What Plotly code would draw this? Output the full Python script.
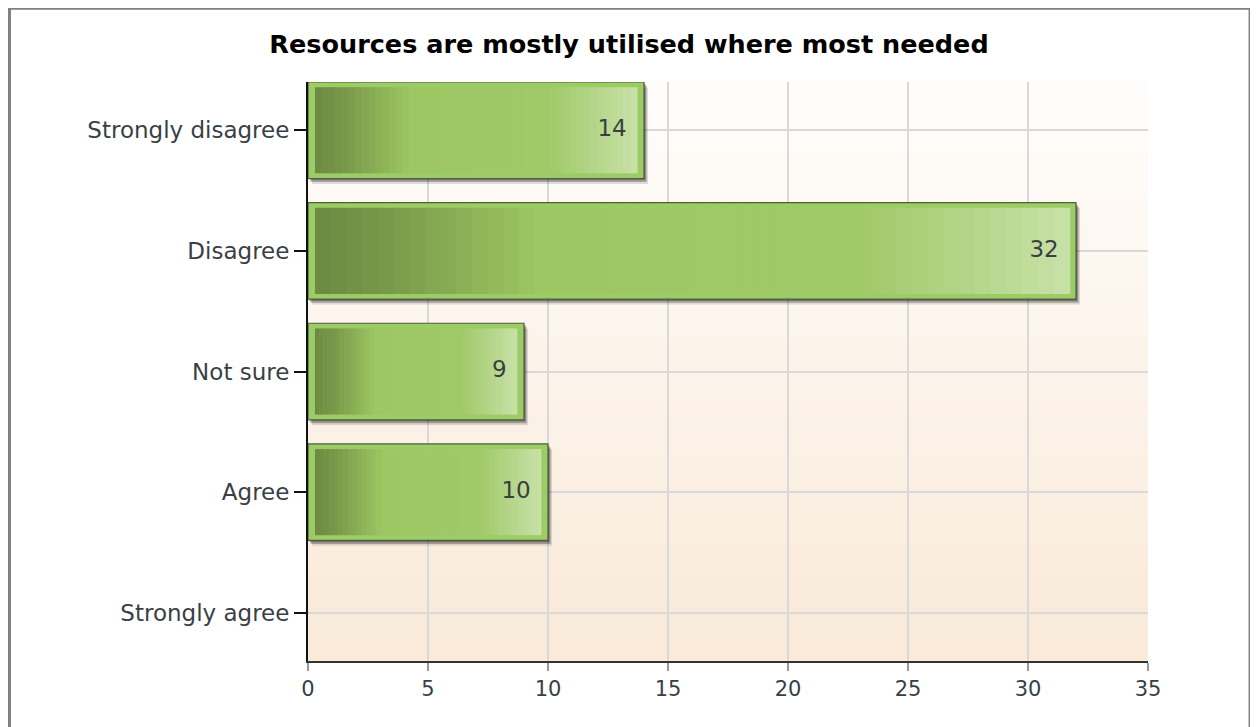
import plotly.graph_objects as go

# Daten
categories = ["Strongly disagree", "Disagree", "Not sure", "Agree", "Strongly agree"]
counts = [14, 32, 9, 10, 0]
x_ticks = [0, 5, 10, 15, 20, 25, 30, 35]

FONT = "DejaVu Sans"
N_SEG = 48
INSET_X = 0.29      # Innenabstand des Verlaufs (Achseneinheiten)
INNER_W = 0.714     # Hoehe des Verlaufs (Kategorie-Einheiten)

# Seite hat 8px Rand im Browser -> Figur etwas kleiner
W, H = 1250, 719


def lerp(c1, c2, t):
    return tuple(c1[k] + (c2[k] - c1[k]) * t for k in range(3))


# Farbverlauf der Balken (links dunkel -> mitte gruen -> rechts hell)
stops = [
    (0.00, (108, 137, 66)),
    (0.10, (122, 154, 74)),
    (0.30, (157, 199, 99)),
    (0.72, (160, 201, 104)),
    (1.00, (199, 225, 167)),
]


def grad_color(t):
    for (t0, c0), (t1, c1) in zip(stops[:-1], stops[1:]):
        if t <= t1:
            c = lerp(c0, c1, (t - t0) / (t1 - t0))
            return "rgb(%d,%d,%d)" % tuple(round(v) for v in c)
    return "rgb(%d,%d,%d)" % stops[-1][1]


# Nullwerte nicht zeichnen
bar_vals = [c if c > 0 else None for c in counts]

fig = go.Figure()

# Schatten
for dx, dy, alpha in [(0.17, 0.045, 0.12), (0.11, 0.03, 0.25), (0.06, 0.015, 0.3)]:
    fig.add_trace(go.Bar(
        y=categories, x=bar_vals, base=dx,
        orientation="h", width=0.8, offset=-0.4 + dy,
        marker=dict(color=f"rgba(0,0,0,{alpha})", line=dict(width=0)),
        hoverinfo="skip", showlegend=False,
    ))

# Aeusserer Balken mit Rahmen
fig.add_trace(go.Bar(
    y=categories, x=bar_vals, orientation="h", width=0.8,
    marker=dict(color="#9ccc65", line=dict(color="#4e5d3a", width=1.2)),
    hoverinfo="skip", showlegend=False,
))

# Verlauf innen aus Segmenten
inner_len = [max(c - 2 * INSET_X, 0) for c in counts]
for i in range(N_SEG):
    t = (i + 0.5) / N_SEG
    fig.add_trace(go.Bar(
        y=categories,
        x=[L / N_SEG * 1.08 if L > 0 else None for L in inner_len],
        base=[INSET_X + L * i / N_SEG for L in inner_len],
        orientation="h", width=INNER_W,
        marker=dict(color=grad_color(t), line=dict(width=0)),
        hoverinfo="skip", showlegend=False,
    ))

# Werte-Beschriftung
lab_cat = [c for c, v in zip(categories, counts) if v > 0]
lab_val = [v for v in counts if v > 0]
fig.add_trace(go.Scatter(
    y=lab_cat, x=[v - 0.72 for v in lab_val], mode="text",
    text=[str(v) for v in lab_val], textposition="middle left",
    textfont=dict(family=FONT, size=23, color="#3a3f3f"),
    hoverinfo="skip", showlegend=False,
))

# Hintergrundverlauf im Plotbereich
shapes = []
n_bg = 40
top_c, bot_c = (255, 253, 251), (249, 234, 217)
for i in range(n_bg):
    c = lerp(top_c, bot_c, i / (n_bg - 1))
    shapes.append(dict(
        type="rect", xref="x domain", yref="y domain",
        x0=0, x1=1, y0=1 - (i + 1) / n_bg, y1=1 - i / n_bg + 0.002,
        fillcolor="rgb(%d,%d,%d)" % tuple(round(v) for v in c),
        line=dict(width=0), layer="below",
    ))

# Rahmen um die Grafik
shapes.append(dict(
    type="rect", xref="paper", yref="paper",
    x0=-0.3554, x1=1.1215, y0=-0.2, y1=1.1275,
    line=dict(color="#808080", width=3), fillcolor="rgba(0,0,0,0)", layer="above",
))

fig.update_layout(
    width=W, height=H,
    barmode="overlay",
    paper_bgcolor="white", plot_bgcolor="white",
    margin=dict(l=300, r=110, t=74, b=66),
    title=dict(
        text="<b>Resources are mostly utilised where most needed</b>",
        font=dict(family=FONT, size=25.5, color="black"),
        x=621 / W, xref="container", xanchor="center",
        y=1 - 36 / H, yref="container", yanchor="middle",
    ),
    xaxis=dict(
        range=[0, 35], tickvals=x_ticks, showgrid=True,
        gridcolor="#d9d9d9", gridwidth=1.5, zeroline=False,
        showline=True, linecolor="#333333", linewidth=2,
        ticks="outside", ticklen=8, tickcolor="#9a9a9a", tickwidth=1.5,
        tickfont=dict(family=FONT, size=21, color="#3a3f46"),
    ),
    yaxis=dict(
        range=[4.4, -0.4], type="category", showgrid=True,
        gridcolor="#d9d9d9", gridwidth=1.5, zeroline=False,
        showline=True, linecolor="#111111", linewidth=2,
        ticks="outside", ticklen=12, tickcolor="#111111", tickwidth=1.5,
        tickfont=dict(family=FONT, size=23, color="#3a3f46"),
    ),
    shapes=shapes,
    font=dict(family=FONT),
)

fig.write_html("out.html")
